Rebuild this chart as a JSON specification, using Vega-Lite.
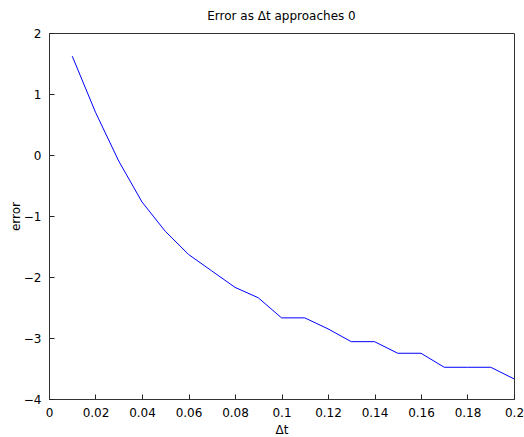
{
  "$schema": "https://vega.github.io/schema/vega-lite/v6.json",
  "width": 465,
  "height": 366,
  "autosize": "none",
  "padding": {"left": 49, "top": 33, "right": 10, "bottom": 38},
  "background": "white",
  "title": {"text": "Error as Δt approaches 0", "font": "DejaVu Sans", "fontSize": 12, "fontWeight": "normal", "color": "#000", "offset": 4},
  "data": {"values": [
    {"dt": 0.01, "error": 1.62},
    {"dt": 0.02, "error": 0.70},
    {"dt": 0.03, "error": -0.10},
    {"dt": 0.04, "error": -0.77},
    {"dt": 0.05, "error": -1.25},
    {"dt": 0.06, "error": -1.63},
    {"dt": 0.07, "error": -1.90},
    {"dt": 0.08, "error": -2.17},
    {"dt": 0.09, "error": -2.34},
    {"dt": 0.10, "error": -2.67},
    {"dt": 0.11, "error": -2.67},
    {"dt": 0.12, "error": -2.85},
    {"dt": 0.13, "error": -3.06},
    {"dt": 0.14, "error": -3.06},
    {"dt": 0.15, "error": -3.25},
    {"dt": 0.16, "error": -3.25},
    {"dt": 0.17, "error": -3.48},
    {"dt": 0.18, "error": -3.48},
    {"dt": 0.19, "error": -3.48},
    {"dt": 0.20, "error": -3.67}
  ]},
  "mark": {"type": "line", "color": "#0000ff", "strokeWidth": 1},
  "encoding": {
    "x": {"field": "dt", "type": "quantitative", "title": "Δt",
          "scale": {"domain": [0, 0.2], "nice": false, "zero": false},
          "axis": {"orient": "bottom", "values": [0, 0.02, 0.04, 0.06, 0.08, 0.1, 0.12, 0.14, 0.16, 0.18, 0.2], "labelExpr": "format(datum.value, '~g')", "ticks": true, "tickSize": -5, "tickColor": "#222", "tickWidth": 1, "labelPadding": 13, "labelFlush": false, "labelOverlap": false, "grid": false, "titlePadding": 6}},
    "y": {"field": "error", "type": "quantitative", "title": "error",
          "scale": {"domain": [-4, 2], "nice": false, "zero": false},
          "axis": {"orient": "left", "values": [-4, -3, -2, -1, 0, 1, 2], "ticks": true, "tickSize": -5, "tickColor": "#222", "tickWidth": 1, "labelPadding": 13, "labelFlush": false, "labelOverlap": false, "grid": false, "titlePadding": 1}}
  },
  "config": {
    "view": {"stroke": "#333"},
    "axis": {
      "labelFont": "DejaVu Sans", "labelFontSize": 12, "labelColor": "#000",
      "titleFont": "DejaVu Sans", "titleFontSize": 12, "titleFontWeight": "normal", "titleColor": "#000",
      "domainColor": "#333"
    }
  }
}
